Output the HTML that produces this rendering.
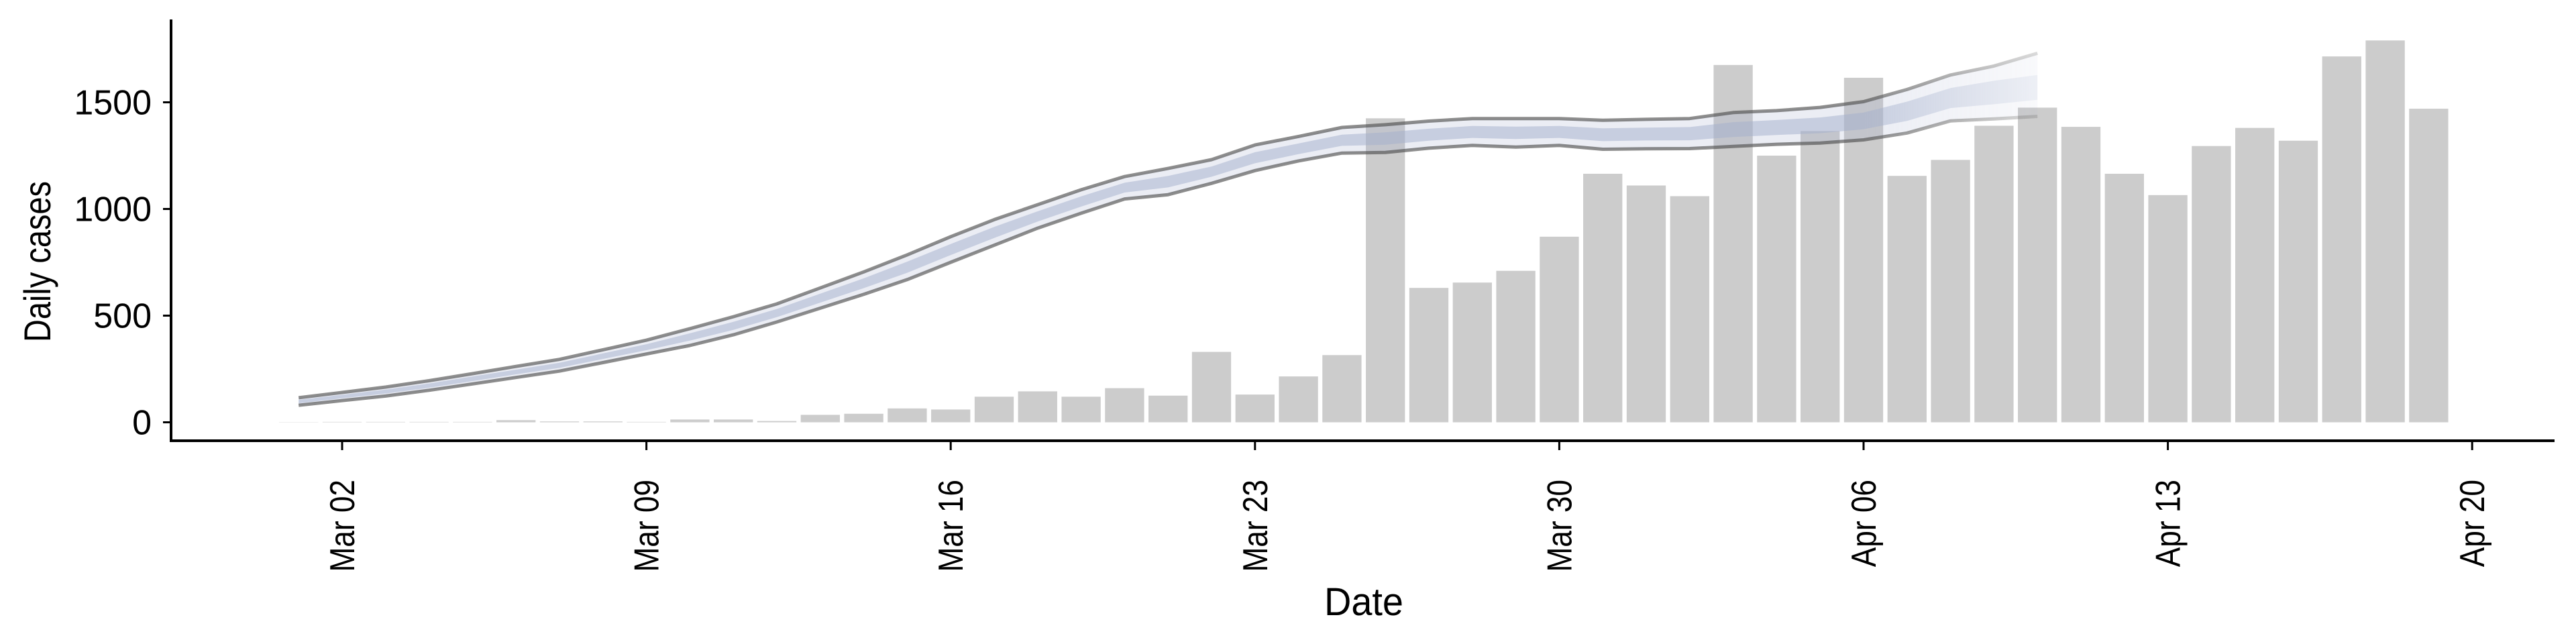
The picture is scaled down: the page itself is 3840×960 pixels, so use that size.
<!DOCTYPE html>
<html><head><meta charset="utf-8">
<style>
html,body{margin:0;padding:0;background:#fff;}
svg{display:block;}
text{font-family:"Liberation Sans",Arial,sans-serif;fill:#000;}
</style></head>
<body>
<svg id="chart" width="3840" height="960" viewBox="0 0 3840 960" xmlns="http://www.w3.org/2000/svg">
<defs>
<linearGradient id="fadeGrad" gradientUnits="userSpaceOnUse" x1="2780" y1="0" x2="3045" y2="0">
<stop offset="0" stop-color="#fff" stop-opacity="1"/>
<stop offset="1" stop-color="#fff" stop-opacity="0.3"/>
</linearGradient>
<mask id="fadeMask" maskUnits="userSpaceOnUse" x="0" y="0" width="3840" height="960">
<rect x="0" y="0" width="3840" height="960" fill="url(#fadeGrad)"/>
</mask>
</defs>
<g id="bars"></g>
<g id="ribbon" mask="url(#fadeMask)"></g>
<g id="axes"></g>
</svg>
<script>
// ---- data ----
const barDayOffsets = [-1,0,1,2,3,4,5,6,7,8,9,10,11,12,13,14,15,16,17,18,19,20,21,22,23,24,25,26,27,28,29,30,31,32,33,34,35,36,37,38,39,40,41,42,43,44,45,46,47,48];
const barValues = [1,2,2,2,2,10,4,4,2,13,13,6,35,40,65,60,120,145,120,160,125,330,130,215,315,1425,630,655,710,870,1165,1110,1060,1675,1250,1365,1615,1155,1230,1390,1475,1385,1165,1065,1295,1380,1320,1715,1790,1470];
const bandDayOffsets = [-1,0,1,2,3,4,5,6,7,8,9,10,11,12,13,14,15,16,17,18,19,20,21,22,23,24,25,26,27,28,29,30,31,32,33,34,35,36,37,38,39];
const upperValues = [115,140,165,195,228,262,295,340,385,439,495,555,630,705,785,870,950,1020,1090,1152,1190,1231,1300,1340,1382,1395,1412,1424,1424,1424,1416,1420,1424,1452,1461,1476,1503,1560,1628,1670,1730];
const lowerValues = [80,102,123,150,180,210,240,280,320,360,410,470,535,600,669,750,830,910,980,1047,1067,1120,1180,1225,1262,1265,1285,1298,1290,1298,1280,1282,1283,1293,1303,1309,1324,1356,1413,1422,1434];
const innerUpperValues = [105,129,153,182,215,247,279,323,366,417,471,531,603,675,753,836,916,989,1059,1123,1155,1199,1266,1307,1348,1359,1376,1389,1386,1389,1378,1381,1384,1407,1417,1429,1452,1503,1567,1601,1628];
const innerLowerValues = [89,113,135,162,193,225,255,297,338,383,433,493,561,629,701,784,864,941,1011,1077,1101,1151,1214,1257,1296,1301,1320,1333,1328,1333,1318,1321,1322,1337,1347,1355,1374,1413,1473,1491,1512];
const yTickValues = [0,500,1000,1500];
const xTickOffsets = [0,7,14,21,28,35,42,49];
const xTickLabels = ["Mar 02","Mar 09","Mar 16","Mar 23","Mar 30","Apr 06","Apr 13","Apr 20"];

// ---- scales ----
const X0 = 510, DAY = 64.8;
const Y0 = 629.5, PER = 0.318;
function xs(d){ return X0 + d*DAY; }
function ys(v){ return Y0 - v*PER; }
const NS = "http://www.w3.org/2000/svg";
function mk(tag, attrs, parent){
  const e = document.createElementNS(NS, tag);
  for (const k in attrs) e.setAttribute(k, attrs[k]);
  parent.appendChild(e);
  return e;
}

// ---- bars ----
const barsG = document.getElementById('bars');
const bw = DAY*0.9;
barValues.forEach((v,i)=>{
  const d = barDayOffsets[i];
  const r = mk('rect',{x:xs(d)-bw/2, y:ys(v), width:bw, height:Math.max(0,ys(0)-ys(v)), fill:'#cccccc'}, barsG);
  
  
});

// ---- ribbon ----
const ribG = document.getElementById('ribbon');
function bandPath(up, lo){
  let p = '';
  bandDayOffsets.forEach((d,i)=>{ p += (i?'L':'M') + xs(d).toFixed(1) + ',' + ys(up[i]).toFixed(1); });
  for (let i=bandDayOffsets.length-1;i>=0;i--){ p += 'L' + xs(bandDayOffsets[i]).toFixed(1) + ',' + ys(lo[i]).toFixed(1); }
  return p + 'Z';
}
function linePath(vals){
  let p = '';
  bandDayOffsets.forEach((d,i)=>{ p += (i?'L':'M') + xs(d).toFixed(1) + ',' + ys(vals[i]).toFixed(1); });
  return p;
}
const outer = mk('path',{d:bandPath(upperValues, lowerValues), fill:'rgb(163,175,205)', 'fill-opacity':0.22}, ribG);


const inner = mk('path',{d:bandPath(innerUpperValues, innerLowerValues), fill:'rgb(163,175,205)', 'fill-opacity':0.5}, ribG);


const upLine = mk('path',{d:linePath(upperValues), fill:'none', stroke:'#505050', 'stroke-opacity':0.65, 'stroke-width':5, 'stroke-linejoin':'round'}, ribG);


const loLine = mk('path',{d:linePath(lowerValues), fill:'none', stroke:'#505050', 'stroke-opacity':0.65, 'stroke-width':5, 'stroke-linejoin':'round'}, ribG);



// ---- axes ----
const ax = document.getElementById('axes');
const yAxis = mk('line',{x1:255, y1:29, x2:255, y2:659, stroke:'#000', 'stroke-width':4}, ax);


const xAxis = mk('line',{x1:253, y1:657, x2:3808, y2:657, stroke:'#000', 'stroke-width':4}, ax);



yTickValues.forEach(v=>{
  const y = ys(v);
  const t = mk('line',{x1:243, y1:y, x2:255, y2:y, stroke:'#000', 'stroke-width':3}, ax);
  
  
  const l = mk('text',{x:226, y:y+18, 'text-anchor':'end', 'font-size':52}, ax);
  l.textContent = String(v);
  
  
});

xTickOffsets.forEach((d,i)=>{
  const x = xs(d);
  const t = mk('line',{x1:x, y1:658, x2:x, y2:671, stroke:'#000', 'stroke-width':3}, ax);
  
  
  const l = mk('text',{x:0, y:0, 'text-anchor':'end', 'font-size':52, transform:'translate(' + (x+18) + ',715) rotate(-90) scale(0.85,1)'}, ax);
  l.textContent = xTickLabels[i];
  
  
});

const yt = mk('text',{x:0, y:0, 'text-anchor':'middle', 'font-size':56, textLength:240, lengthAdjust:'spacingAndGlyphs', transform:'translate(75,390) rotate(-90)'}, ax);
yt.textContent = 'Daily cases';


const xt = mk('text',{x:2033, y:917, 'text-anchor':'middle', 'font-size':58, textLength:118, lengthAdjust:'spacingAndGlyphs'}, ax);
xt.textContent = 'Date';


</script>
</body></html>
